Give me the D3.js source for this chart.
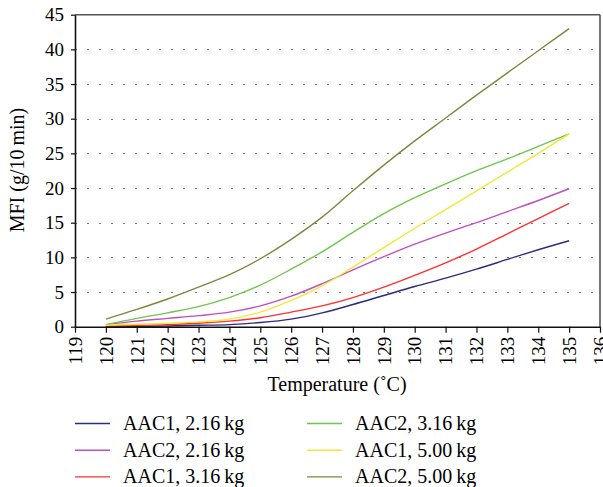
<!DOCTYPE html>
<html>
<head>
<meta charset="utf-8">
<script src="https://cdn.jsdelivr.net/npm/d3@7"></script>
<style>
  body { margin: 0; background: #fff; }
  svg text { font-family: "Liberation Serif", "DejaVu Serif", serif; fill: #000; }
</style>
</head>
<body>
<div id="chart"></div>
<script>
const temps = [120, 121, 122, 123, 124, 125, 126, 127, 128, 129, 130, 131, 132, 133, 134, 135];

const aac1_216 = [0.0, 0.05, 0.1, 0.2, 0.3, 0.6, 1.1, 2.0, 3.2, 4.5, 5.8, 7.0, 8.3, 9.7, 11.1, 12.4];
const aac2_216 = [0.3, 0.8, 1.2, 1.6, 2.1, 3.0, 4.4, 6.2, 8.2, 10.1, 11.9, 13.5, 15.0, 16.6, 18.2, 19.9];
const aac1_316 = [0.1, 0.2, 0.3, 0.5, 0.8, 1.3, 2.1, 3.0, 4.2, 5.7, 7.4, 9.2, 11.2, 13.4, 15.6, 17.8];
const aac2_316 = [0.3, 1.2, 2.0, 2.9, 4.2, 6.0, 8.3, 10.8, 13.6, 16.3, 18.6, 20.6, 22.5, 24.2, 26.0, 27.8];
const aac1_500 = [0.2, 0.35, 0.5, 0.7, 1.1, 2.1, 3.8, 5.9, 8.6, 11.4, 14.2, 16.9, 19.6, 22.3, 25.0, 27.8];
const aac2_500 = [1.1, 2.5, 4.0, 5.7, 7.5, 9.8, 12.6, 15.8, 19.6, 23.3, 26.8, 30.1, 33.4, 36.6, 39.8, 43.0];

const seriesNames = ["AAC1, 2.16\u2009kg", "AAC2, 2.16\u2009kg", "AAC1, 3.16\u2009kg",
                     "AAC2, 3.16\u2009kg", "AAC1, 5.00\u2009kg", "AAC2, 5.00\u2009kg"];
const seriesValues = [aac1_216, aac2_216, aac1_316, aac2_316, aac1_500, aac2_500];
const seriesColors = ["#2b2b80", "#c050c0", "#ff3030", "#6ec64a", "#f0e836", "#85843e"];

const xTicks = d3.range(119, 137);
const yTicks = [0, 5, 10, 15, 20, 25, 30, 35, 40, 45];

const W = 603, H = 487;
const plot = { left: 75, right: 600, top: 14.7, bottom: 326.7 };
const tickFont = 19, labelFont = 20;

const svg = d3.select("#chart")
    .append("svg")
    .attr("width", W)
    .attr("height", H);

const x = d3.scaleLinear().domain([119, 136]).range([plot.left, plot.right]);
const y = d3.scaleLinear().domain([0, 45]).range([plot.bottom, plot.top]);

// dotted grid
svg.append("g")
    .selectAll("line")
    .data(yTicks.filter(d => d > 0 && d < 45))
    .enter()
    .append("line")
    .attr("x1", plot.left)
    .attr("x2", plot.right)
    .attr("y1", d => Math.round(y(d)) + 0.5)
    .attr("y2", d => Math.round(y(d)) + 0.5)
    .attr("stroke", "#777")
    .attr("stroke-width", 1.2)
    .attr("stroke-dasharray", "2,10")
    .attr("stroke-dashoffset", -12);

// frame top / right
svg.append("line")
    .attr("x1", plot.left).attr("x2", plot.right)
    .attr("y1", plot.top).attr("y2", plot.top)
    .attr("stroke", "#555").attr("stroke-width", 1.6);
svg.append("line")
    .attr("x1", plot.right).attr("x2", plot.right)
    .attr("y1", plot.top).attr("y2", plot.bottom)
    .attr("stroke", "#555").attr("stroke-width", 1.6);

// lines
const line = d3.line()
    .x((d, i) => x(temps[i]))
    .y(d => y(d))
    .curve(d3.curveMonotoneX);

svg.append("g")
    .selectAll("path")
    .data(seriesValues)
    .enter()
    .append("path")
    .attr("fill", "none")
    .attr("stroke", (d, i) => seriesColors[i])
    .attr("stroke-width", 1.4)
    .attr("d", line);

// axes
const xAxis = svg.append("g")
    .attr("transform", `translate(0,${plot.bottom})`)
    .call(d3.axisBottom(x).tickValues(xTicks).tickFormat(d3.format("d")).tickSize(6).tickSizeOuter(0));
xAxis.select(".domain").attr("stroke", "#111").attr("stroke-width", 1.6);
xAxis.selectAll(".tick line").attr("stroke", "#111").attr("stroke-width", 1.2);
xAxis.selectAll(".tick text")
    .attr("font-size", tickFont)
    .attr("transform", "rotate(-90)")
    .attr("text-anchor", "end")
    .attr("x", -10)
    .attr("y", 0)
    .attr("dy", "0.33em");

const yAxis = svg.append("g")
    .attr("transform", `translate(${plot.left},0)`)
    .call(d3.axisLeft(y).tickValues(yTicks).tickSize(4).tickSizeOuter(0));
yAxis.select(".domain").attr("stroke", "#111").attr("stroke-width", 1.6);
yAxis.selectAll(".tick line").attr("stroke", "#111").attr("stroke-width", 1.2);
yAxis.selectAll(".tick text")
    .attr("font-size", tickFont)
    .attr("x", -11);

// titles
svg.append("text")
    .attr("transform", "translate(24,170) rotate(-90)")
    .attr("text-anchor", "middle")
    .attr("font-size", labelFont)
    .text("MFI (g/10\u2009min)");

svg.append("text")
    .attr("x", 337)
    .attr("y", 391)
    .attr("text-anchor", "middle")
    .attr("font-size", labelFont)
    .text("Temperature (\u02DAC)");

// legend
const legend = svg.append("g");
seriesNames.forEach((name, i) => {
    const col = Math.floor(i / 3), row = i % 3;
    const lx = col === 0 ? 75 : 307;
    const ly = 423.5 + row * 26.7;
    legend.append("line")
        .attr("x1", lx).attr("x2", lx + 35)
        .attr("y1", ly).attr("y2", ly)
        .attr("stroke", seriesColors[i])
        .attr("stroke-width", 1.4);
    legend.append("text")
        .attr("x", lx + 48)
        .attr("y", ly + 6.5)
        .attr("font-size", labelFont)
        .text(name);
});
</script>
</body>
</html>
